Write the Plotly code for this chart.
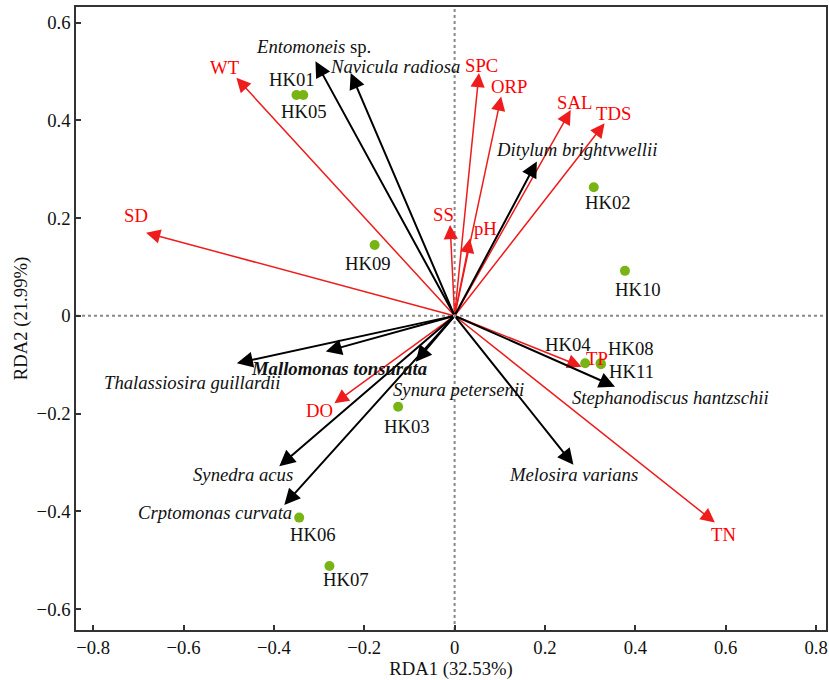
import plotly.graph_objects as go

# ---- data ----
site_names = ["HK01", "HK05", "HK09", "HK02", "HK10", "HK04", "HK08", "HK11", "HK03", "HK06", "HK07"]
site_x = [-0.350, -0.335, -0.177, 0.308, 0.377, 0.289, 0.323, 0.324, -0.125, -0.344, -0.277]
site_y = [0.452, 0.452, 0.145, 0.263, 0.092, -0.097, -0.097, -0.099, -0.186, -0.413, -0.512]

env_names = ["WT", "SD", "SPC", "ORP", "SAL", "TDS", "SS", "pH", "TP", "TN", "DO"]
env_x = [-0.483, -0.683, 0.054, 0.103, 0.257, 0.332, -0.010, 0.034, 0.281, 0.576, -0.266]
env_y = [0.487, 0.170, 0.497, 0.449, 0.421, 0.394, 0.186, 0.158, -0.104, -0.423, -0.179]

sp_names = ["<i>Entomoneis</i> sp.", "<i>Navicula radiosa</i>", "<i>Ditylum brightvwellii</i>",
            "<i>Stephanodiscus hantzschii</i>", "<i>Melosira varians</i>", "<i>Synura petersenii</i>",
            "<b><i>Mallomonas tonsurata</i></b>", "<i>Thalassiosira guillardii</i>",
            "<i>Synedra acus</i>", "<i>Crptomonas curvata</i>"]
sp_x = [-0.308, -0.230, 0.182, 0.355, 0.263, -0.086, -0.285, -0.482, -0.388, -0.377]
sp_y = [0.521, 0.497, 0.316, -0.145, -0.305, -0.094, -0.073, -0.097, -0.308, -0.387]

# ---- label pixel offsets (dx, dy) ----
site_off = [(-4, 15), (1, -16.5), (-7, -18.5), (14.5, -15), (13.5, -18.5), (-17, 19),
            (30, 14.5), (30, -7), (8.5, -20), (13.5, -17), (16.7, -14)]
env_off = [(-11, 10), (-10, 17), (2, 7), (8, 10), (4, 8), (9, 10), (-7, 10), (16, 10),
           (15, 8), (9, -12), (-15, -7)]
sp_off = [(-1.5, 15), (44, 6), (40, 12), (55, -11), (0, -10), (43, -28), (13, -17),
          (-45, -19), (-36, -8), (-69, -8)]

FONT = "Liberation Serif, Times New Roman, serif"
FS = 18.7
RED = "#ee1c1c"
TXT_RED = "#ff0000"

fig = go.Figure()

# dotted zero lines
fig.add_shape(type="line", xref="x", yref="paper", x0=0, x1=0, y0=0, y1=1,
              line=dict(color="#888888", width=2, dash="dot"), layer="below")
fig.add_shape(type="line", xref="paper", yref="y", x0=0, x1=1, y0=0, y1=0,
              line=dict(color="#888888", width=2, dash="dot"), layer="below")

annotations = []
# red environment arrows
for n, x, y in zip(env_names, env_x, env_y):
    annotations.append(dict(x=x, y=y, ax=0, ay=0, xref="x", yref="y", axref="x", ayref="y",
                            text="", showarrow=True, arrowhead=2, arrowsize=1.9,
                            arrowwidth=1.5, arrowcolor=RED, standoff=0))
# black species arrows
for n, x, y in zip(sp_names, sp_x, sp_y):
    annotations.append(dict(x=x, y=y, ax=0, ay=0, xref="x", yref="y", axref="x", ayref="y",
                            text="", showarrow=True, arrowhead=2, arrowsize=1.6,
                            arrowwidth=2, arrowcolor="#000000", standoff=0))

fig.add_trace(go.Scatter(x=site_x, y=site_y, mode="markers",
                         marker=dict(color="#78b414", size=10), hoverinfo="text",
                         text=site_names, showlegend=False))

for n, x, y, (dx, dy) in zip(env_names, env_x, env_y, env_off):
    annotations.append(dict(x=x, y=y, xref="x", yref="y", text=n, showarrow=False,
                            xshift=dx, yshift=dy, font=dict(family=FONT, size=FS, color=TXT_RED)))
for n, x, y, (dx, dy) in zip(sp_names, sp_x, sp_y, sp_off):
    annotations.append(dict(x=x, y=y, xref="x", yref="y", text=n, showarrow=False,
                            xshift=dx, yshift=dy, font=dict(family=FONT, size=FS, color="#111111")))
for n, x, y, (dx, dy) in zip(site_names, site_x, site_y, site_off):
    annotations.append(dict(x=x, y=y, xref="x", yref="y", text=n, showarrow=False,
                            xshift=dx, yshift=dy, font=dict(family=FONT, size=FS, color="#111111")))

axis_common = dict(showline=True, mirror=True, linecolor="#333333", linewidth=1.5,
                   ticks="inside", ticklen=5, tickwidth=1.5, tickcolor="#333333",
                   showgrid=False, zeroline=False,
                   tickfont=dict(family=FONT, size=FS, color="#111111"))

fig.update_layout(
    width=829, height=680,
    margin=dict(l=76, r=1, t=7, b=50),
    plot_bgcolor="white", paper_bgcolor="white",
    annotations=annotations,
    xaxis=dict(range=[-0.838, 0.822], tickvals=[-0.8, -0.6, -0.4, -0.2, 0, 0.2, 0.4, 0.6, 0.8],
               ticktext=["\u22120.8", "\u22120.6", "\u22120.4", "\u22120.2", "0", "0.2", "0.4", "0.6", "0.8"],
               title=dict(text="RDA1 (32.53%)", font=dict(family=FONT, size=FS, color="#111111"), standoff=6),
               **axis_common),
    yaxis=dict(range=[-0.643, 0.632], tickvals=[-0.6, -0.4, -0.2, 0, 0.2, 0.4, 0.6],
               ticktext=["\u22120.6", "\u22120.4", "\u22120.2", "0", "0.2", "0.4", "0.6"],
               title=dict(text="RDA2 (21.99%)", font=dict(family=FONT, size=FS, color="#111111"), standoff=4),
               **axis_common),
)

fig.write_html("out.html")
